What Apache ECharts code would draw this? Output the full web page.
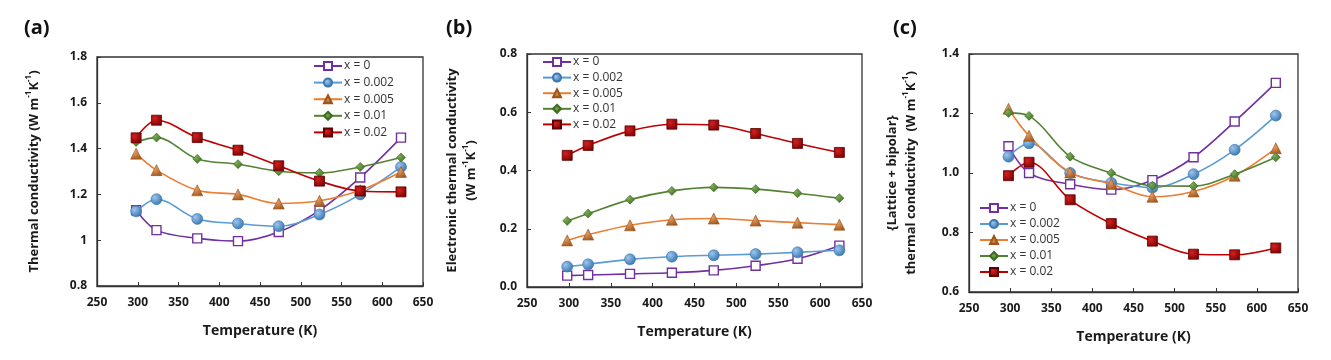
<!DOCTYPE html>
<html>
<head>
<meta charset="utf-8">
<script src="https://cdn.jsdelivr.net/npm/echarts@6/dist/echarts.min.js"></script>
<style>
html,body{margin:0;padding:0;background:#fff;}
#chart{width:1331px;height:360px;}
</style>
</head>
<body>
<div id="chart"></div>
<script>
// ---- data ----
const temperatures = [298, 323, 373, 423, 473, 523, 573, 623];
const seriesNames = ['x = 0', 'x = 0.002', 'x = 0.005', 'x = 0.01', 'x = 0.02'];
const panelLabels = ['(a)', '(b)', '(c)'];
const xTicks = [250, 300, 350, 400, 450, 500, 550, 600, 650];

// (a) total thermal conductivity
const totalK_x0     = [1.131, 1.044, 1.008, 0.996, 1.036, 1.130, 1.274, 1.448];
const totalK_x0002  = [1.126, 1.179, 1.093, 1.073, 1.061, 1.112, 1.200, 1.320];
const totalK_x0005  = [1.378, 1.306, 1.218, 1.200, 1.160, 1.172, 1.218, 1.298];
const totalK_x001   = [1.429, 1.448, 1.355, 1.332, 1.301, 1.294, 1.320, 1.361];
const totalK_x002   = [1.447, 1.524, 1.448, 1.393, 1.325, 1.258, 1.215, 1.211];

// (b) electronic thermal conductivity
const elecK_x0      = [0.039, 0.041, 0.045, 0.049, 0.057, 0.073, 0.097, 0.142];
const elecK_x0002   = [0.070, 0.078, 0.095, 0.104, 0.109, 0.113, 0.119, 0.126];
const elecK_x0005   = [0.160, 0.180, 0.212, 0.231, 0.235, 0.228, 0.221, 0.214];
const elecK_x001    = [0.227, 0.252, 0.300, 0.330, 0.342, 0.336, 0.322, 0.305];
const elecK_x002    = [0.452, 0.486, 0.536, 0.559, 0.556, 0.527, 0.493, 0.462];

// (c) lattice + bipolar thermal conductivity
const latK_x0       = [1.090, 1.000, 0.962, 0.944, 0.976, 1.053, 1.173, 1.303];
const latK_x0002    = [1.055, 1.100, 1.000, 0.967, 0.951, 0.996, 1.078, 1.193];
const latK_x0005    = [1.216, 1.125, 1.002, 0.963, 0.920, 0.938, 0.991, 1.083];
const latK_x001     = [1.202, 1.192, 1.055, 1.000, 0.957, 0.956, 0.996, 1.053];
const latK_x002     = [0.991, 1.036, 0.910, 0.830, 0.771, 0.727, 0.725, 0.748];

const panelData = [
  [totalK_x0, totalK_x0002, totalK_x0005, totalK_x001, totalK_x002],
  [elecK_x0, elecK_x0002, elecK_x0005, elecK_x001, elecK_x002],
  [latK_x0, latK_x0002, latK_x0005, latK_x001, latK_x002]
];

// ---- styles ----
function radial(inner, outer) {
  return new echarts.graphic.RadialGradient(0.35, 0.35, 0.75, [
    {offset: 0, color: inner}, {offset: 1, color: outer}
  ]);
}
const seriesStyles = [
  {line: '#7030A0', symbol: 'rect', size: 9, item: {color: '#ffffff', borderColor: '#7030A0', borderWidth: 1.4}},
  {line: '#5B9BD5', symbol: 'circle', size: 11, item: {color: radial('#9CC6EE', '#2F6EA8'), borderColor: '#3A78B0', borderWidth: 0.6}},
  {line: '#ED7D31', symbol: 'triangle', size: 11, item: {color: radial('#E2A06A', '#9E5318'), borderColor: '#9E5318', borderWidth: 0.6}},
  {line: '#548235', symbol: 'diamond', size: 9, item: {color: radial('#7AAE55', '#3E6B22'), borderColor: '#3E6B22', borderWidth: 0.6}},
  {line: '#C00000', symbol: 'rect', size: 10, item: {color: radial('#D42020', '#7A0000'), borderColor: '#600000', borderWidth: 0.8}}
];

const grids = [
  {left: 97, top: 57, width: 326, height: 229},
  {left: 527, top: 54, width: 335, height: 233},
  {left: 969, top: 54, width: 329, height: 238}
];
const yRanges = [
  {min: 0.8, max: 1.8, interval: 0.2, fmt: v => String(Math.round(v * 10) / 10)},
  {min: 0.0, max: 0.8, interval: 0.2, fmt: v => v.toFixed(1)},
  {min: 0.6, max: 1.4, interval: 0.2, fmt: v => v.toFixed(1)}
];
const supRich = {
  t: {fontSize: 13, fontWeight: 'bold', fontFamily: 'Open Sans', color: '#1a1a1a', lineHeight: 19},
  s: {fontSize: 8, fontWeight: 'bold', fontFamily: 'Open Sans', color: '#1a1a1a', verticalAlign: 'top', lineHeight: 19, padding: [0, 0, 7, 0]}
};
const yNames = [
  '{t|Thermal conductivity (W m}{s|-1}{t|K}{s|-1}{t|)}',
  '{t|Electronic thermal conductivity}\n{t|(W m}{s|-1}{t|K}{s|-1}{t|)}',
  '{Lattice + bipolar}\n{t|thermal conductivity  (W m}{s|-1}{t|K}{s|-1}{t|)}'
];
const yNameGaps = [53, 46, 48];
const legendPos = [
  {left: 313, top: 60, itemGap: 4.6},
  {left: 542, top: 56, itemGap: 3.6},
  {left: 979, top: 202, itemGap: 4}
];
const titlePos = [{left: 24, top: 18}, {left: 446, top: 18}, {left: 893, top: 18}];

const tickFont = {fontSize: 12, fontWeight: 'bold', fontFamily: 'Open Sans', color: '#1a1a1a'};

const option = {
  animation: false,
  backgroundColor: '#ffffff',
  title: panelLabels.map((t, i) => ({
    text: t, left: titlePos[i].left, top: titlePos[i].top, padding: 0,
    textStyle: {fontSize: 20, fontWeight: 'bold', fontFamily: 'Open Sans', color: '#111'}
  })),
  grid: grids.map(g => Object.assign({show: true, borderColor: '#333', borderWidth: 1.3, backgroundColor: 'transparent'}, g)),
  legend: legendPos.map(p => ({
    left: p.left, top: p.top, orient: 'vertical', itemGap: p.itemGap,
    itemWidth: 28, itemHeight: 10, padding: 0,
    data: seriesNames,
    textStyle: {fontSize: 12, fontFamily: 'Open Sans', color: '#333', padding: [0, 0, 0, -3]}
  })),
  xAxis: grids.map((g, i) => ({
    type: 'value', gridIndex: i, min: xTicks[0], max: xTicks[xTicks.length - 1], interval: 50,
    name: 'Temperature (K)', nameLocation: 'middle', nameGap: 38,
    nameTextStyle: {fontSize: 14, fontWeight: 'bold', fontFamily: 'Open Sans', color: '#1a1a1a'},
    axisLine: {show: true, onZero: false, lineStyle: {color: '#333', width: 1.3}},
    axisTick: {show: true, inside: true, length: 4, lineStyle: {color: '#333'}},
    axisLabel: Object.assign({margin: 11}, tickFont),
    splitLine: {show: false}
  })),
  yAxis: yRanges.map((r, i) => ({
    type: 'value', gridIndex: i, min: r.min, max: r.max, interval: r.interval,
    name: yNames[i], nameLocation: 'middle', nameRotate: 90, nameGap: yNameGaps[i],
    nameTextStyle: {rich: supRich, align: 'center', fontSize: 13, fontWeight: 'bold', fontFamily: 'Open Sans', color: '#1a1a1a', lineHeight: 19},
    axisLine: {show: true, onZero: false, lineStyle: {color: '#333', width: 1.3}},
    axisTick: {show: true, inside: true, length: 4, lineStyle: {color: '#333'}},
    axisLabel: Object.assign({margin: 10, formatter: r.fmt}, tickFont),
    splitLine: {show: false}
  })),
  series: []
};

panelData.forEach((sets, p) => {
  sets.forEach((vals, k) => {
    const st = seriesStyles[k];
    option.series.push({
      type: 'line', name: seriesNames[k], xAxisIndex: p, yAxisIndex: p,
      data: temperatures.map((t, j) => [t, vals[j]]),
      smooth: 0.35,
      symbol: st.symbol, symbolSize: st.size, showAllSymbol: true,
      lineStyle: {color: st.line, width: 1.6},
      itemStyle: st.item,
      z: 2 + k
    });
  });
});

const chart = echarts.init(document.getElementById('chart'), null, {renderer: 'canvas'});
chart.setOption(option);
</script>
</body>
</html>
